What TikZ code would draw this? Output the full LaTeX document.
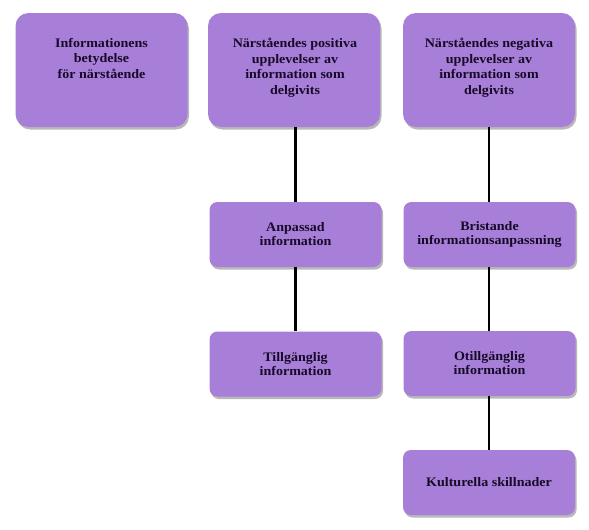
\documentclass[tikz,border=0pt]{standalone}
\usepackage{fontspec}
\setmainfont{Liberation Serif}[FakeStretch=1.08]
\usetikzlibrary{shadows}
\definecolor{boxpurple}{RGB}{168,127,216}
\definecolor{txt}{RGB}{22,10,40}
\begin{document}
\begin{tikzpicture}[x=1pt,y=-1pt,
  box/.style={fill=boxpurple, draw=none, inner sep=0pt,
    drop shadow={shadow xshift=1.5pt, shadow yshift=-2.5pt, fill=black, opacity=0.28}},
  bigbox/.style={box, rounded corners=13pt, minimum width=172pt, minimum height=114pt},
  smallbox/.style={box, rounded corners=8pt, minimum width=172pt, minimum height=65pt},
  bigtext/.style={align=center, inner sep=0pt, anchor=north, text=txt,
    font=\bfseries\fontsize{13}{15.6}\selectfont},
  smalltext/.style={align=center, inner sep=0pt, text=txt,
    font=\bfseries\fontsize{13}{14}\selectfont},
  link/.style={line width=2.6pt, black}]
\useasboundingbox (0,0) rectangle (589,530);
\fill[white] (0,0) rectangle (589,530);

\node[bigbox] (b1) at (101.5,70) {};
\node[bigbox] (b2) at (294,70) {};
\node[bigbox] (b3) at (489,70) {};
\node[smallbox] (m1) at (295.5,234.5) {};
\node[smallbox] (m2) at (295.5,364) {};
\node[smallbox] (r1) at (489.5,234.5) {};
\node[smallbox] (r2) at (489.5,363.5) {};
\node[smallbox] (r3) at (489,482.5) {};

\node[bigtext] (t1) at (101.5,38) {Informationens\\betydelse\\för närstående};
\node[bigtext] (t2) at (295,38) {Närståendes positiva\\upplevelser av\\information som\\delgivits};
\node[bigtext] (t3) at (489,38) {Närståendes negativa\\upplevelser av\\information som\\delgivits};
\node[smalltext] (tm1) at (m1) {Anpassad\\information};
\node[smalltext] (tm2) at (m2) {Tillgänglig\\information};
\node[smalltext] (tr1) at (r1) {Bristande\\informationsanpassning};
\node[smalltext] (tr2) at (r2) {Otillgänglig\\information};
\node[smalltext] (tr3) at (r3) {Kulturella skillnader};

\draw[link] (b2.south -| m1) -- (m1.north);
\draw[link] (m1.south) -- (m2.north);
\draw[link] (b3.south) -- (r1.north -| b3);
\draw[link] (r1.south -| b3) -- (r2.north -| b3);
\draw[link] (r2.south -| b3) -- (r3.north -| b3);
\end{tikzpicture}
\end{document}
